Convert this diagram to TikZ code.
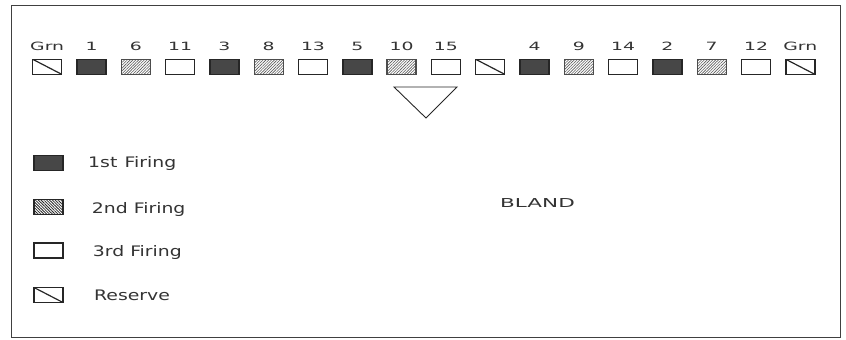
\documentclass[tikz,border=0pt]{standalone}
\usepackage{fontspec}
\newfontfamily\numfont[FakeStretch=1.65]{DejaVu Sans}
\newfontfamily\legfont[FakeStretch=1.3]{DejaVu Sans}
\newfontfamily\titfont[FakeStretch=1.75]{DejaVu Sans}
\usetikzlibrary{patterns.meta}
\begin{document}
\begin{tikzpicture}[x=1pt,y=-1pt,
 cell/.style={draw=black!85,line width=1.4pt,minimum width=29pt,minimum height=15pt,inner sep=0pt},
 fone/.style={cell,fill=black!72},
 ftwo/.style={cell,draw=black!70,pattern={Lines[angle=45,distance=2pt,line width=0.6pt]},pattern color=black!65},
 ftwoleg/.style={cell,pattern={Lines[angle=-45,distance=2pt,line width=0.8pt]},pattern color=black!85},
 fthree/.style={cell},
 fres/.style={cell,path picture={\draw[line width=1.2pt,black!85] (path picture bounding box.north west) -- (path picture bounding box.south east);}},
 num/.style={font=\numfont\fontsize{11.4}{13}\selectfont,text=black!80,inner sep=0,anchor=base},
 leg/.style={font=\legfont\fontsize{14.5}{16}\selectfont,text=black!80,anchor=base west,inner sep=0},
 tit/.style={font=\titfont\fontsize{12.3}{14}\selectfont,text=black!80,anchor=base west,inner sep=0}
]
\useasboundingbox (0,0) rectangle (846,340);
\draw[line width=1pt,black!75] (11,5) rectangle (840,337);

\foreach \i/\st in {1/fres,2/fone,3/ftwo,4/fthree,5/fone,6/ftwo,7/fthree,8/fone,9/ftwo,10/fthree,11/fres,12/fone,13/ftwo,14/fthree,15/fone,16/ftwo,17/fthree,18/fres}{
 \node[\st] (b\i) at ({47.2+44.3*(\i-1)},66.8) {};
}
\foreach \i/\lab in {1/Grn,2/1,3/6,4/11,5/3,6/8,7/13,8/5,9/10,10/15,12/4,13/9,14/14,15/2,16/7,17/12,18/Grn}{
 \node[num] (t\i) at ({47.2+44.3*(\i-1)},50) {\lab};
}

\draw[line width=0.9pt,black!85] (394,87) -- (457,87) -- (426,118) -- cycle;

\node[fone] (l1) at (48.5,163) {};
\node[ftwoleg] (l2) at (48.5,207) {};
\node[fthree] (l3) at (48.5,250.5) {};
\node[fres] (l4) at (48.5,295) {};

\node[leg] (x1) at (88,167.3) {1st\enspace Firing};
\node[leg] (x2) at (91.7,213.3) {2nd Firing};
\node[leg] (x3) at (92.7,256.7) {3rd Firing};
\node[leg] (x4) at (94,300.7) {Reserve};

\node[tit] (bland) at (500,207) {BLAND};
\end{tikzpicture}
\end{document}
